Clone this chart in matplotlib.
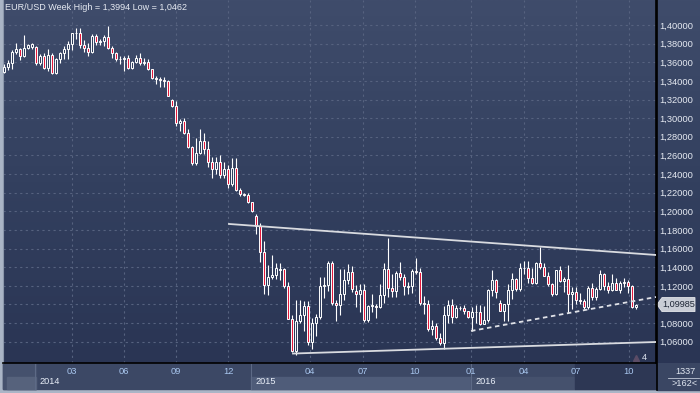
import numpy as np
import matplotlib
matplotlib.use("Agg")
import matplotlib.pyplot as plt
from matplotlib.patches import Rectangle, Polygon
from matplotlib.colors import LinearSegmentedColormap
import matplotlib.transforms as mtransforms

# weekly EUR/USD candles (holiday weeks split like in the platform)
opens = [1.3500, 1.3553, 1.3589, 1.3707, 1.3742, 1.3671, 1.3755, 1.3762, 1.3767, 1.3590,
         1.3665, 1.3540, 1.3675, 1.3485, 1.3635, 1.3695, 1.3740, 1.3800, 1.3910, 1.3915,
         1.3780, 1.3750, 1.3705, 1.3885, 1.3815, 1.3830, 1.3870, 1.3755, 1.3695, 1.3630,
         1.3635, 1.3645, 1.3540, 1.3605, 1.3645, 1.3595, 1.3605, 1.3525, 1.3430, 1.3425,
         1.3410, 1.3400, 1.3195, 1.3130, 1.2950, 1.2965, 1.2840, 1.2685, 1.2515, 1.2625,
         1.2760, 1.2670, 1.2525, 1.2450, 1.2525, 1.2390, 1.2450, 1.2290, 1.2465, 1.2230,
         1.2190, 1.2170, 1.2100, 1.1950, 1.1840, 1.1565, 1.1205, 1.1290, 1.1315, 1.1375,
         1.1385, 1.1195, 1.0845, 1.0495, 1.0825, 1.0890, 1.0985, 1.0600, 1.0805, 1.0870,
         1.1195, 1.1205, 1.1445, 1.1015, 1.0990, 1.1110, 1.1260, 1.1350, 1.1140, 1.1110,
         1.1160, 1.0830, 1.0980, 1.0985, 1.0970, 1.1105, 1.1385, 1.1180, 1.1145, 1.1340,
         1.1300, 1.1190, 1.1200, 1.1360, 1.1350, 1.1015, 1.1005, 1.0740, 1.0770, 1.0645,
         1.0590, 1.0885, 1.0990, 1.0865, 1.0960, 1.0965, 1.0930, 1.0860, 1.0920, 1.0915,
         1.0795, 1.0830, 1.1155, 1.1260, 1.1020, 1.0935, 1.1000, 1.1150, 1.1270, 1.1165,
         1.1390, 1.1395, 1.1285, 1.1225, 1.1450, 1.1405, 1.1310, 1.1220, 1.1115, 1.1365,
         1.1250, 1.1275, 1.1115, 1.1135, 1.1050, 1.1040, 1.0975, 1.1175, 1.1085, 1.1165,
         1.1325, 1.1195, 1.1155, 1.1235, 1.1155, 1.1225, 1.1240, 1.1200, 1.0970]

highs = [1.3578, 1.3624, 1.3732, 1.3810, 1.3750, 1.3893, 1.3800, 1.3805, 1.3775, 1.3690,
         1.3700, 1.3740, 1.3700, 1.3650, 1.3710, 1.3775, 1.3825, 1.3915, 1.3967, 1.3965,
         1.3840, 1.3810, 1.3905, 1.3905, 1.3855, 1.3890, 1.3994, 1.3770, 1.3705, 1.3670,
         1.3670, 1.3675, 1.3615, 1.3680, 1.3700, 1.3650, 1.3630, 1.3530, 1.3450, 1.3445,
         1.3445, 1.3405, 1.3210, 1.3185, 1.2995, 1.3000, 1.2880, 1.2700, 1.2790, 1.2887,
         1.2840, 1.2750, 1.2580, 1.2580, 1.2600, 1.2530, 1.2500, 1.2570, 1.2570, 1.2245,
         1.2200, 1.2200, 1.2105, 1.1975, 1.1870, 1.1680, 1.1425, 1.1535, 1.1450, 1.1450,
         1.1390, 1.1245, 1.0890, 1.1045, 1.1050, 1.1035, 1.1035, 1.0850, 1.0900, 1.1290,
         1.1300, 1.1467, 1.1465, 1.1050, 1.1385, 1.1385, 1.1435, 1.1410, 1.1210, 1.1215,
         1.1215, 1.0990, 1.1115, 1.1000, 1.1215, 1.1440, 1.1714, 1.1330, 1.1360, 1.1460,
         1.1330, 1.1245, 1.1385, 1.1495, 1.1390, 1.1095, 1.1045, 1.0830, 1.0800, 1.0695,
         1.0985, 1.1045, 1.1060, 1.0990, 1.0980, 1.0995, 1.0935, 1.0970, 1.0990, 1.0990,
         1.0985, 1.1165, 1.1375, 1.1275, 1.1050, 1.1005, 1.1218, 1.1342, 1.1280, 1.1440,
         1.1465, 1.1465, 1.1395, 1.1460, 1.1616, 1.1445, 1.1350, 1.1225, 1.1375, 1.1415,
         1.1300, 1.1427, 1.1185, 1.1185, 1.1120, 1.1060, 1.1195, 1.1235, 1.1185, 1.1365,
         1.1340, 1.1240, 1.1325, 1.1285, 1.1255, 1.1280, 1.1260, 1.1210, 1.1005]

lows = [1.3481, 1.3517, 1.3524, 1.3685, 1.3625, 1.3660, 1.3740, 1.3745, 1.3575, 1.3570,
        1.3530, 1.3510, 1.3475, 1.3477, 1.3590, 1.3640, 1.3640, 1.3735, 1.3850, 1.3750,
        1.3705, 1.3672, 1.3700, 1.3790, 1.3790, 1.3770, 1.3740, 1.3650, 1.3615, 1.3585,
        1.3505, 1.3525, 1.3525, 1.3590, 1.3575, 1.3575, 1.3515, 1.3420, 1.3365, 1.3335,
        1.3335, 1.3235, 1.3115, 1.2920, 1.2860, 1.2835, 1.2680, 1.2500, 1.2500, 1.2615,
        1.2615, 1.2480, 1.2360, 1.2400, 1.2360, 1.2360, 1.2250, 1.2270, 1.2220, 1.2160,
        1.2160, 1.2085, 1.1995, 1.1755, 1.1460, 1.1115, 1.1100, 1.1270, 1.1270, 1.1260,
        1.1175, 1.0840, 1.0485, 1.0462, 1.0800, 1.0710, 1.0570, 1.0520, 1.0660, 1.0845,
        1.1065, 1.1140, 1.0990, 1.0820, 1.0885, 1.1050, 1.1220, 1.1130, 1.0970, 1.0915,
        1.0810, 1.0810, 1.0920, 1.0850, 1.0960, 1.1015, 1.1085, 1.1085, 1.1085, 1.1260,
        1.1105, 1.1110, 1.1125, 1.1330, 1.0995, 1.0895, 1.0710, 1.0675, 1.0620, 1.0565,
        1.0524, 1.0800, 1.0805, 1.0850, 1.0940, 1.0900, 1.0850, 1.0710, 1.0805, 1.0780,
        1.0785, 1.0810, 1.1095, 1.1065, 1.0925, 1.0825, 1.0822, 1.1055, 1.1145, 1.1145,
        1.1325, 1.1235, 1.1215, 1.1215, 1.1380, 1.1305, 1.1200, 1.1095, 1.1100, 1.1240,
        1.1130, 1.0912, 1.0950, 1.1000, 1.1000, 1.0950, 1.0955, 1.1045, 1.1045, 1.1160,
        1.1160, 1.1125, 1.1145, 1.1150, 1.1125, 1.1190, 1.1125, 1.0960, 1.0955]

closes = [1.3553, 1.3589, 1.3707, 1.3742, 1.3671, 1.3755, 1.3790, 1.3795, 1.3590, 1.3665,
          1.3540, 1.3675, 1.3485, 1.3635, 1.3695, 1.3740, 1.3800, 1.3910, 1.3915, 1.3780,
          1.3750, 1.3705, 1.3885, 1.3815, 1.3830, 1.3870, 1.3755, 1.3695, 1.3630, 1.3635,
          1.3645, 1.3540, 1.3605, 1.3645, 1.3595, 1.3605, 1.3525, 1.3430, 1.3425, 1.3410,
          1.3400, 1.3240, 1.3130, 1.2950, 1.2965, 1.2840, 1.2685, 1.2515, 1.2625, 1.2760,
          1.2670, 1.2525, 1.2450, 1.2525, 1.2390, 1.2450, 1.2290, 1.2465, 1.2230, 1.2190,
          1.2170, 1.2100, 1.2005, 1.1840, 1.1565, 1.1205, 1.1290, 1.1315, 1.1390, 1.1385,
          1.1195, 1.0845, 1.0495, 1.0825, 1.0890, 1.0985, 1.0600, 1.0805, 1.0870, 1.1200,
          1.1205, 1.1445, 1.1015, 1.0990, 1.1110, 1.1260, 1.1350, 1.1165, 1.1110, 1.1160,
          1.0830, 1.0980, 1.0990, 1.0970, 1.1105, 1.1385, 1.1180, 1.1145, 1.1340, 1.1300,
          1.1195, 1.1200, 1.1360, 1.1350, 1.1015, 1.1005, 1.0740, 1.0770, 1.0645, 1.0590,
          1.0885, 1.0990, 1.0865, 1.0960, 1.0965, 1.0930, 1.0860, 1.0920, 1.0915, 1.0795,
          1.0830, 1.1155, 1.1260, 1.1130, 1.0935, 1.1000, 1.1150, 1.1270, 1.1165, 1.1390,
          1.1395, 1.1285, 1.1225, 1.1450, 1.1405, 1.1310, 1.1220, 1.1115, 1.1365, 1.1250,
          1.1275, 1.1115, 1.1135, 1.1050, 1.1040, 1.0975, 1.1175, 1.1085, 1.1165, 1.1325,
          1.1195, 1.1155, 1.1235, 1.1155, 1.1225, 1.1240, 1.1200, 1.0970, 1.0999]

price_ticks = [1.06, 1.08, 1.10, 1.12, 1.14, 1.16, 1.18, 1.20, 1.22, 1.24,
               1.26, 1.28, 1.30, 1.32, 1.34, 1.36, 1.38, 1.40]
month_ticks = [17, 30, 43, 56, 76.5, 89.75, 102.75, 116.75, 130, 143, 156.25]
month_labels = ['03', '06', '09', '12', '04', '07', '10', '01', '04', '07', '10']
year_starts = [8, 62, 117]
year_labels = ['2014', '2015', '2016']

# trend lines as (bar index, price) pairs
resist_x, resist_y = [56.25, 163], [1.1864, 1.1531]
support_x, support_y = [72.25, 163], [1.0473, 1.0597]
rising_x, rising_y = [116.75, 163], [1.0715, 1.1080]

last_price = 1.09985
title = 'EUR/USD Week High = 1,3994 Low = 1,0462'

W, H = 700, 393
def fx(x):
    return x / W
def fy(y):
    return 1 - y / H

plt.rcParams['font.family'] = ['Liberation Sans', 'DejaVu Sans']
fig = plt.figure(figsize=(W / 100, H / 100), dpi=100)
fig.patch.set_facecolor('#aab5c6')

# time axis panels, drawn under everything
def fig_rect(x0, x1, y0, y1, color):
    fig.add_artist(Rectangle((fx(x0), fy(y1)), fx(x1 - x0), (y1 - y0) / H,
                             transform=fig.transFigure, color=color, zorder=-2))

fig_rect(3, 656, 363, 389, '#3c4865')
fig_rect(3, 36, 363, 389, '#45516d')
fig_rect(7, 36, 377, 389, '#56627c')
fig_rect(657, 700, 363, 390, '#3a4663')

# gradient background behind chart and price scale
bg = fig.add_axes([fx(3), fy(363), fx(700 - 3), 363 / H])
cmap = LinearSegmentedColormap.from_list('bg', ['#3f4c6b', '#33405f', '#2a3554'])
bg.imshow(np.linspace(0, 1, 256).reshape(-1, 1), aspect='auto', cmap=cmap,
          extent=[0, 1, 0, 1])
bg.set_axis_off()

ax = fig.add_axes([fx(3), fy(363), fx(656 - 3), 363 / H])
ax.set_facecolor('none')
ax.set_xlim(-0.25, 163)
ax.set_ylim(1.03714, 1.42684)

blend = mtransforms.blended_transform_factory(ax.transData, fig.transFigure)

def data_rect(x0, x1, y0, y1, color):
    ax.add_patch(Rectangle((x0, fy(y1)), x1 - x0, (y1 - y0) / H, transform=blend,
                           color=color, zorder=0.2, clip_on=False))

data_rect(year_starts[1] - 0.25, year_starts[2] - 0.25, 377, 389, '#4f5c79')
data_rect(year_starts[2] - 0.25, 142.75, 377, 389, '#45516d')
data_rect(142.75, 163, 363.5, 389, '#2d3754')
for ys in year_starts:
    ax.plot([ys - 0.25, ys - 0.25], [fy(363.5), fy(389)], transform=blend,
            color='#5d6a86', lw=0.8, clip_on=False, zorder=0.3)
for ys, yl in zip(year_starts, year_labels):
    ax.text(ys + 0.75, fy(382), yl, transform=blend, fontsize=6.6,
            color='#e8eef8', ha='left', va='center')

idx = np.arange(len(opens))
o = np.array(opens)
c = np.array(closes)
up = c >= o
fills = np.where(up, '#33405f', '#e3193c')
body_low = np.minimum(o, c)
body_h = np.maximum(np.abs(c - o), 0.0004)

ax.vlines(idx, lows, highs, colors='white', linewidth=0.8, zorder=3)
ax.bar(idx, body_h, bottom=body_low, width=0.5, color=fills,
       edgecolor='white', linewidth=0.7, zorder=4)

ax.plot(resist_x, resist_y, color='#d9dbe0', lw=1.3, zorder=5)
ax.plot(support_x, support_y, color='#d9dbe0', lw=1.3, zorder=5)
ax.plot(rising_x, rising_y, color='#e0e2e8', lw=1.3, ls=(0, (2.5, 2)), zorder=5)

# axes, ticks, grid
ax.set_yticks(price_ticks)
# the 1,10000 label sits under the last-price tag
ax.set_yticklabels(['' if abs(v - last_price) < 0.005 else f'{v:.5f}'.replace('.', ',')
                    for v in price_ticks])
ax.yaxis.tick_right()
ax.set_xticks(month_ticks)
ax.set_xticklabels(month_labels)
ax.grid(True, color='#56627f', lw=0.8, ls=(0, (2, 3)))
ax.tick_params(axis='y', length=0, pad=2.5, labelsize=6.7, labelcolor='#e6eaf2')
ax.tick_params(axis='x', length=0, pad=2.6, labelsize=6.7, labelcolor='#a8c6ee')
ax.spines['top'].set_visible(False)
ax.spines['left'].set_color('#8b97ab')
ax.spines['right'].set_color('black')
ax.spines['right'].set_linewidth(1.2)
ax.spines['bottom'].set_color('black')
ax.spines['bottom'].set_linewidth(1.2)

fig.text(fx(5), fy(8), title, fontsize=6.5, color='#e6eaf2', va='center', ha='left')

fig.add_artist(plt.Line2D([fx(656.5), fx(656.5)], [fy(0), fy(390)],
                          transform=fig.transFigure, color='black', lw=1.2))

# last price tag
yt = ax.transData.transform((0, last_price))[1] / fig.bbox.height
th = 7 / H
tag = Polygon([(fx(657), yt), (fx(662), yt + th), (fx(695), yt + th),
               (fx(695), yt - th), (fx(662), yt - th)], closed=True,
              transform=fig.transFigure, facecolor='#c9cdd6', edgecolor='#e4e6ea', lw=0.6)
fig.add_artist(tag)
fig.text(fx(679), yt, f'{last_price:.5f}'.replace('.', ','), fontsize=6.6,
         color='#1e2636', ha='center', va='center')

# bottom right counters
fig.text(fx(685), fy(371), '1337', fontsize=6.6, color='#e0e6f0', ha='center', va='center')
fig.add_artist(plt.Line2D([fx(668), fx(699)], [fy(377.5), fy(377.5)],
                          transform=fig.transFigure, color='#c0c8d6', lw=0.6))
fig.text(fx(685), fy(384), '>162<', fontsize=6.6, color='#e0e6f0', ha='center', va='center')

fig.text(fx(644), fy(357), '4', fontsize=6.6, color='#e0e6f0', ha='center', va='center')
ax.plot([158], [fy(358)], transform=blend, marker='^', ms=4, color='#5b4c66',
        clip_on=False)

fig.savefig('out.png', dpi=100, facecolor=fig.get_facecolor())
